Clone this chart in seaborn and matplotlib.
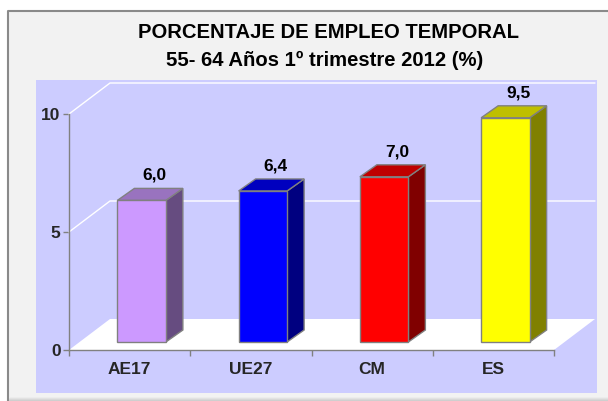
import numpy as np
import pandas as pd
import seaborn as sns
import matplotlib
matplotlib.use("Agg")
import matplotlib.pyplot as plt
from matplotlib.patches import Rectangle, Polygon
from matplotlib.lines import Line2D
from matplotlib.transforms import ScaledTranslation, IdentityTransform

# ---------------- data ----------------
categories = ["AE17", "UE27", "CM", "ES"]
values = [6.0, 6.4, 7.0, 9.5]
value_labels = ["6,0", "6,4", "7,0", "9,5"]
front_colors = ["#CC99FF", "#0000FF", "#FF0000", "#FFFF00"]
side_colors = ["#664C80", "#000080", "#800000", "#808000"]
top_colors = ["#9973BF", "#0000BF", "#BF0000", "#BFBF00"]
yticks = [0, 5, 10]
title_lines = ["PORCENTAJE DE EMPLEO TEMPORAL", "55- 64 Años 1º trimestre 2012 (%)"]

# ---------------- figure ----------------
W, H = 608, 401
sns.set_theme(style="white")
plt.rcParams["font.family"] = ["Liberation Sans", "DejaVu Sans"]
fig = plt.figure(figsize=(W / 100, H / 100), dpi=100, facecolor="white")


def fx(x):
    return x / W


def fy(y):
    return 1 - y / H


# chart area
fig.add_artist(Rectangle((fx(7.5), fy(398)), (W + 5 - 7.5) / W, (398 - 10.5) / H,
                         transform=fig.transFigure, facecolor="#F2F2F2",
                         edgecolor="none", zorder=-10))
fig.add_artist(Line2D([fx(7.5), fx(7.5), 1.0], [0.0, fy(10.5), fy(10.5)],
                      transform=fig.transFigure, color="#8A8A8A", lw=1.5,
                      zorder=-9.8))
for i, c in enumerate(["#ECECEC", "#E2E2E2", "#D8D8D8", "#CFCFCF"]):
    fig.add_artist(Rectangle((fx(8.5), fy(397 + i + 1)), (W - 8.5) / W, 1 / H,
                             transform=fig.transFigure, facecolor=c,
                             edgecolor="none", zorder=-9.5))
# plot area (lavender)
fig.add_artist(Rectangle((fx(36), fy(393)), (597 - 36) / W, (393 - 80) / H,
                         transform=fig.transFigure, facecolor="#CCCCFF",
                         edgecolor="none", zorder=-9))

# titles
fig.text(fx(328), fy(32), title_lines[0], ha="center", va="center",
         fontsize=14.6, fontweight="bold", color="black")
fig.text(fx(325), fy(60), title_lines[1], ha="center", va="center",
         fontsize=14.6, fontweight="bold", color="black")

# axes = front plane of the 3D box
ax = fig.add_axes([fx(69), fy(350), (554 - 69) / W, (350 - 114) / H])
ax.set_facecolor("none")

df = pd.DataFrame({"cat": categories, "val": values})
sns.barplot(data=df, x="cat", y="val", hue="cat", palette=front_colors,
            order=categories, hue_order=categories, dodge=False, width=0.4,
            saturation=1, edgecolor="#808080", linewidth=1, legend=False, ax=ax)
ax.set_xlim(-0.5, len(categories) - 0.5)
ax.set_ylim(0, 10)
ax.set_xlabel("")
ax.set_ylabel("")
bars = sorted([p for p in ax.patches if isinstance(p, Rectangle)],
              key=lambda p: p.get_x())

# 3D geometry (pixels): box depth and bar placement/depth
box_dx, box_dy = 41, 31          # display coords (y up)
bar_off = np.array([12.0, 8.0])   # front face of bars, display coords
bar_dep = np.array([17.0, 12.0])  # bar depth, display coords
ident = IdentityTransform()

# floor
p0 = ax.transData.transform((-0.5, 0))
p1 = ax.transData.transform((len(categories) - 0.5, 0))
floor = Polygon([p0, p1, p1 + [box_dx, box_dy], p0 + [box_dx, box_dy]],
                closed=True, transform=ident, facecolor="white",
                edgecolor="none", clip_on=False, zorder=0.5)
ax.add_patch(floor)
# back-wall gridlines
for v in yticks[1:]:
    a = ax.transData.transform((-0.5, v))
    b = ax.transData.transform((len(categories) - 0.5, v))
    pts = np.array([a, a + [box_dx, box_dy], b + [box_dx, box_dy]])
    ax.add_line(Line2D(pts[:, 0], pts[:, 1], transform=ident, color="white",
                       lw=1, clip_on=False, zorder=0.6))

# bars: shift front faces, add side and top faces
off_t = ScaledTranslation(bar_off[0] / 100, bar_off[1] / 100, fig.dpi_scale_trans)
lab_t = ScaledTranslation(0.25, 0.33, fig.dpi_scale_trans)
for i, p in enumerate(bars):
    x0 = p.get_x()
    x1 = x0 + p.get_width()
    v = p.get_height()
    p.set_transform(ax.transData + off_t)
    p.set_clip_on(False)
    p.set_zorder(3)
    B = ax.transData.transform((x1, 0)) + bar_off
    T = ax.transData.transform((x1, v)) + bar_off
    L = ax.transData.transform((x0, v)) + bar_off
    ax.add_patch(Polygon([B, T, T + bar_dep, B + bar_dep], closed=True,
                         transform=ident, facecolor=side_colors[i],
                         edgecolor="#808080", lw=1, clip_on=False, zorder=2.9))
    ax.add_patch(Polygon([L, T, T + bar_dep, L + bar_dep], closed=True,
                         transform=ident, facecolor=top_colors[i],
                         edgecolor="#808080", lw=1, clip_on=False, zorder=2.9))
    xc = x0 + p.get_width() / 2
    ax.text(xc, v, value_labels[i], ha="center", va="center", fontsize=12.5,
            fontweight="bold", color="black", clip_on=False,
            transform=ax.transData + lab_t)

# axes styling
for s in ["top", "right"]:
    ax.spines[s].set_visible(False)
for s in ["left", "bottom"]:
    ax.spines[s].set_color("#808080")
    ax.spines[s].set_linewidth(1)
    ax.spines[s].set_zorder(2.5)

ax.set_yticks(yticks)
ax.set_yticklabels([str(t) for t in yticks], fontsize=12.5, fontweight="bold")
ax.tick_params(axis="y", which="major", left=True, length=4, width=1,
               color="#808080", pad=2, direction="out")

ax.set_xticks(np.arange(len(categories) + 1) - 0.5)
ax.set_xticklabels([""] * (len(categories) + 1))
ax.set_xticks(np.arange(len(categories)), minor=True)
ax.set_xticklabels(categories, minor=True, fontsize=12.5, fontweight="bold")
ax.tick_params(axis="x", which="major", bottom=True, length=4, width=1,
               color="#808080", direction="out")
ax.tick_params(axis="x", which="minor", bottom=True, length=0, pad=9)
ax.grid(False)

fig.savefig("out.png", dpi=100)
